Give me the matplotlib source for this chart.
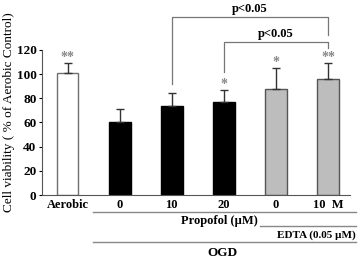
import matplotlib
matplotlib.use("Agg")
import matplotlib.pyplot as plt
import matplotlib.transforms as mtransforms

plt.rcParams['font.family'] = ['Liberation Serif', 'DejaVu Serif']
plt.rcParams['font.weight'] = 'bold'

labels = ["Aerobic", "0", "10", "20", "0", "10  M"]
values = [101, 60, 74, 77, 87.5, 96]
errors = [8, 11, 10, 10, 17.5, 13]
stars = ["**", "", "", "*", "*", "**"]
face_colors = ["white", "black", "black", "black", "#bdbdbd", "#bdbdbd"]
edge_colors = ["#707070", "black", "black", "black", "#555555", "#555555"]

fig = plt.figure(figsize=(3.6, 2.6), dpi=100)
ax = fig.add_axes([0.1167, 0.25, 0.855, 0.5577])
x = list(range(len(values)))
ax.bar(x, values, width=0.42, color=face_colors, edgecolor=edge_colors, linewidth=1.0, zorder=2)
ax.errorbar(x, values, yerr=[[0]*len(values), errors], fmt='none', ecolor='#333333',
            elinewidth=1.0, capsize=3, capthick=1.0, zorder=3)
for xi, v, e, s in zip(x, values, errors, stars):
    if s:
        ax.text(xi, v + e - 1, s, ha='center', va='bottom', fontsize=10, color='#888888')

ax.set_xlim(-0.49, 5.42)
ax.set_ylim(0, 120)
ax.set_yticks([0, 20, 40, 60, 80, 100, 120])
ax.tick_params(axis='y', labelsize=9.5, length=2, width=0.8, pad=2)
ax.set_xticks(x)
ax.set_xticklabels(labels, fontsize=9)
ax.tick_params(axis='x', length=0, pad=3)
for sp in ['top', 'right']:
    ax.spines[sp].set_visible(False)
ax.spines['left'].set_color('#555555')
ax.spines['bottom'].set_color('#555555')
ax.set_ylabel("Cell viability ( % of Aerobic Control)", fontsize=9.5)
ax.yaxis.set_label_coords(-0.088, 0.57)

# significance brackets
bk = dict(color='#777777', lw=0.9, clip_on=False)
ax.plot([2, 2, 5, 5], [91.5, 147, 147, 132], **bk)
ax.text(3.5, 149, "p<0.05", ha='center', va='bottom', fontsize=9)
ax.plot([3, 3, 5, 5], [101.5, 127, 127, 122], **bk)
ax.text(4.0, 128.5, "p<0.05", ha='center', va='bottom', fontsize=9)

# group lines below
trans = mtransforms.blended_transform_factory(ax.transData, ax.transAxes)
gl = dict(color='#888888', lw=1.0, clip_on=False, transform=trans)
ax.plot([0.49, 5.53], [-0.117, -0.117], **gl)
ax.plot([3.7, 5.53], [-0.214, -0.214], **gl)
ax.plot([0.49, 5.53], [-0.324, -0.324], **gl)
ax.text(3.66, -0.18, "Propofol (\u00b5M)", transform=trans, ha='right', va='center', fontsize=9)
ax.text(5.53, -0.276, "EDTA (0.05 \u00b5M)", transform=trans, ha='right', va='center', fontsize=8)
ax.text(2.97, -0.40, "OGD", transform=trans, ha='center', va='center', fontsize=9.5)

fig.savefig("out.png", dpi=100)
